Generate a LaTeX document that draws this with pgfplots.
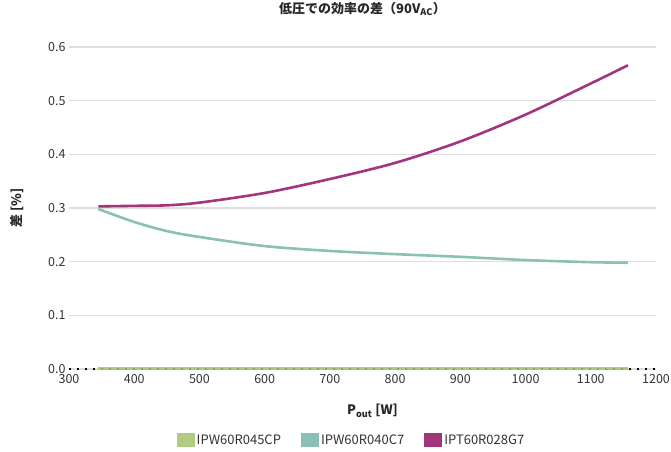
\documentclass[border=0pt]{standalone}
\usepackage{fontspec}
\setmainfont{Noto Sans CJK JP}
\usepackage{pgfplots}
\pgfplotsset{compat=1.18}
\definecolor{cgreen}{RGB}{165,194,110}
\definecolor{cteal}{RGB}{139,192,181}
\definecolor{cmag}{RGB}{163,53,125}
\begin{document}
\begin{tikzpicture}
\begin{axis}[
  scale only axis, width=587pt, height=322pt,
  xmin=300, xmax=1200, ymin=0, ymax=0.6,
  clip=false,
  xtick={300,400,500,600,700,800,900,1000,1100,1200},
  ytick={0,0.1,0.2,0.3,0.4,0.5,0.6},
  yticklabel style={/pgf/number format/fixed, /pgf/number format/fixed zerofill, /pgf/number format/precision=1},
  xticklabel style={yshift=-2pt, /pgf/number format/fixed, /pgf/number format/1000 sep={}},
  /pgf/number format/assume math mode=true,
  ymajorgrids, grid style={black!13, line width=1.2pt},
  axis line style={draw=none}, major tick style={draw=none},
  tick label style={font=\fontsize{12.5}{14}\selectfont, text=black!80},
  title={\bfseries 低圧での効率の差（90V\textsubscript{AC}）},
  title style={at={(axis description cs:0.5,1)}, anchor=center, yshift=32pt, font=\fontsize{13}{15}\selectfont, text=black!85},
  xlabel={\bfseries P\textsubscript{out} [W]},
  xlabel style={at={(axis description cs:0.5,0)}, anchor=center, yshift=-42pt, xshift=10pt, font=\fontsize{13}{15}\selectfont, text=black!85},
  ylabel={\bfseries 差 [\%]},
  ylabel style={at={(axis description cs:0,0.5)}, anchor=center, yshift=52pt, font=\fontsize{13}{15}\selectfont, text=black!85},
  legend style={at={(axis description cs:0.5,0)}, anchor=center, xshift=-11pt, yshift=-71pt, draw=none, fill=none, legend columns=3,
    font=\fontsize{13}{15}\selectfont, text=black!80,
    /tikz/every even column/.append style={column sep=18pt}},
  legend image code/.code={\fill[#1, draw=none] (0pt,-7pt) rectangle (18pt,7pt);},
]
\coordinate (sw) at (rel axis cs:0,0);
\coordinate (ne) at (rel axis cs:1,1);
\addplot[black, line width=1.6pt, dash pattern=on 1.6pt off 6.4pt, forget plot] coordinates {(300,0) (1200,0)};
\addplot[color=cgreen, line width=3pt, opacity=0.85] coordinates {(345,0) (1157,0)};
\addlegendentry{IPW60R045CP}
\addplot[color=cteal, line width=2.6pt, smooth] coordinates {
(345,0.298) (400,0.274) (450,0.257) (500,0.246) (600,0.229) (700,0.220) (800,0.214) (900,0.209) (1000,0.203) (1100,0.199) (1157,0.198)};
\addlegendentry{IPW60R040C7}
\addplot[color=cmag, line width=2.6pt, smooth] coordinates {
(345,0.303) (400,0.304) (450,0.305) (500,0.310) (600,0.328) (700,0.354) (800,0.384) (900,0.424) (1000,0.474) (1100,0.532) (1157,0.566)};
\addlegendentry{IPT60R028G7}
\end{axis}
\pgfresetboundingbox
\path ([shift={(-69pt,-83pt)}]sw) rectangle ([shift={(15pt,47pt)}]ne);
\end{tikzpicture}
\end{document}
